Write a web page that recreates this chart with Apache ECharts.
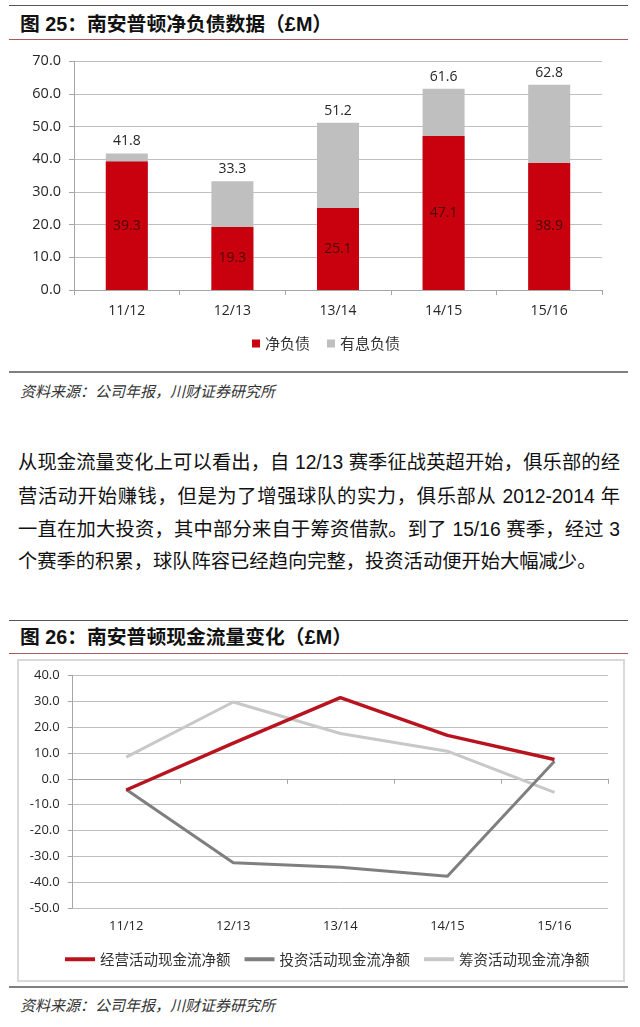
<!DOCTYPE html>
<html>
<head>
<meta charset="utf-8">
<script src="https://cdn.jsdelivr.net/npm/echarts@6/dist/echarts.min.js"></script>
<style>
html,body{margin:0;padding:0;background:#fff;}
body{width:640px;height:1027px;position:relative;overflow:hidden;font-family:"Liberation Sans","Noto Sans CJK SC",sans-serif;}
.hr{position:absolute;left:9px;width:619px;}
.title{position:absolute;left:20px;font-size:19.8px;font-weight:bold;color:#111;line-height:24px;white-space:nowrap;font-family:"Liberation Sans","Noto Sans CJK SC",sans-serif;}
.src{position:absolute;left:20px;font-size:15px;font-style:italic;color:#333;line-height:20px;white-space:nowrap;font-family:"Noto Sans CJK SC",sans-serif;}
.para{position:absolute;left:18px;width:602px;font-size:19.3px;color:#111;line-height:26px;font-family:"Liberation Sans","Noto Sans CJK SC",sans-serif;}
.just{text-align:justify;text-align-last:justify;}
.box{position:absolute;left:17px;top:659px;width:608px;height:323px;border:2px solid #d9d9d9;box-sizing:border-box;}
.chart{position:absolute;left:0;width:640px;}
</style>
</head>
<body>
<div class="hr" style="top:5px;border-top:1.5px solid #555;"></div>
<div class="title" style="top:12px;">图 25：南安普顿净负债数据（£M）</div>
<div class="hr" style="top:39px;border-top:1.5px solid #a65a5a;"></div>
<div id="c1" class="chart" style="top:45px;height:320px;"></div>
<div class="hr" style="top:371px;border-top:2px solid #808080;"></div>
<div class="src" style="top:381px;">资料来源：公司年报，川财证券研究所</div>

<div class="para just" style="top:450px;">从现金流量变化上可以看出，自 12/13 赛季征战英超开始，俱乐部的经</div>
<div class="para just" style="top:484px;">营活动开始赚钱，但是为了增强球队的实力，俱乐部从 2012-2014 年</div>
<div class="para just" style="top:517px;">一直在加大投资，其中部分来自于筹资借款。到了 15/16 赛季，经过 3</div>
<div class="para" style="top:549px;">个赛季的积累，球队阵容已经趋向完整，投资活动便开始大幅减少。</div>

<div class="hr" style="top:620px;border-top:1.5px solid #555;"></div>
<div class="title" style="top:625px;">图 26：南安普顿现金流量变化（£M）</div>
<div class="hr" style="top:653px;border-top:1.5px solid #a65a5a;"></div>
<div class="box"></div>
<div id="c2" class="chart" style="top:659px;height:323px;"></div>
<div class="hr" style="top:986px;border-top:2px solid #808080;"></div>
<div class="src" style="top:995px;">资料来源：公司年报，川财证券研究所</div>

<script>
// ---- data ----
const seasons = ['11/12', '12/13', '13/14', '14/15', '15/16'];
const netDebt = [39.3, 19.3, 25.1, 47.1, 38.9];          // 净负债
const interestDebt = [41.8, 33.3, 51.2, 61.6, 62.8];     // 有息负债
const debtSeriesNames = ['净负债', '有息负债'];

const operatingCF = [-4.3, 13.8, 31.4, 16.8, 7.5];       // 经营活动现金流净额
const investingCF = [-4.1, -32.4, -34.1, -37.6, 6.8];    // 投资活动现金流净额
const financingCF = [8.4, 29.7, 17.5, 10.7, -5.2];       // 筹资活动现金流净额
const cfSeriesNames = ['经营活动现金流净额', '投资活动现金流净额', '筹资活动现金流净额'];

const axisGray = '#a6a6a6';
const gridGray = '#bfbfbf';
const labelColor = '#262626';
const numFont = 'Open Sans';

const c1 = echarts.init(document.getElementById('c1'));
c1.setOption({
  animation: false,
  grid: { left: 74, top: 16.3, width: 528, height: 228.7 },
  legend: {
    data: debtSeriesNames, left: 247, top: 286, icon: 'rect',
    itemWidth: 8, itemHeight: 8, itemGap: 17,
    textStyle: { fontSize: 15, color: '#333', fontFamily: 'Noto Sans CJK SC' }
  },
  xAxis: {
    type: 'category', data: seasons,
    axisLine: { lineStyle: { color: axisGray, width: 1 } },
    axisTick: { show: true, length: 5, lineStyle: { color: axisGray } },
    axisLabel: { margin: 14, fontSize: 14, color: labelColor, fontFamily: numFont }
  },
  yAxis: {
    type: 'value', min: 0, max: 70, interval: 10,
    axisLine: { show: true, lineStyle: { color: axisGray } },
    axisTick: { show: true, length: 5, lineStyle: { color: axisGray } },
    axisLabel: { margin: 13, fontSize: 14.5, color: labelColor, fontFamily: numFont, formatter: v => v.toFixed(1) },
    splitLine: { lineStyle: { color: gridGray } }
  },
  series: [
    {
      name: '有息负债', type: 'bar', data: interestDebt, barWidth: 42, barGap: '-100%',
      itemStyle: { color: '#bfbfbf' },
      label: { show: true, position: 'top', distance: 5, fontSize: 14, color: labelColor, fontFamily: numFont, formatter: p => p.value.toFixed(1) }
    },
    {
      name: '净负债', type: 'bar', data: netDebt, barWidth: 42, barGap: '-100%',
      itemStyle: { color: '#c9000e' },
      label: { show: true, position: 'inside', fontSize: 14, color: '#4a0606', fontFamily: numFont, formatter: p => p.value.toFixed(1) }
    }
  ]
});

const c2 = echarts.init(document.getElementById('c2'));
const lineSeries = (name, data, color, width, z) => ({
  name, type: 'line', data, xAxisIndex: 0, showSymbol: false, symbol: 'none', z,
  lineStyle: { color, width, cap: 'butt' }, itemStyle: { color }
});
c2.setOption({
  animation: false,
  grid: { left: 72.7, top: 16.3, width: 535.3, height: 233 },
  legend: {
    data: cfSeriesNames, left: 60, top: 288, icon: 'rect',
    itemWidth: 30, itemHeight: 4, itemGap: 14,
    textStyle: { fontSize: 14.5, color: '#333', fontFamily: 'Noto Sans CJK SC' }
  },
  xAxis: [
    {
      type: 'category', data: seasons, position: 'bottom',
      axisLine: { show: false, onZero: false }, axisTick: { show: false },
      axisLabel: { margin: 11, fontSize: 13, color: labelColor, fontFamily: numFont }
    },
    {
      type: 'category', data: seasons, position: 'top',
      axisLine: { show: true, onZero: true, lineStyle: { color: axisGray } },
      axisTick: { show: true, inside: true, length: 5, lineStyle: { color: axisGray } },
      axisLabel: { show: false }, splitLine: { show: false }
    }
  ],
  yAxis: {
    type: 'value', min: -50, max: 40, interval: 10,
    axisLine: { show: true, lineStyle: { color: axisGray } },
    axisTick: { show: true, length: 5, lineStyle: { color: axisGray } },
    axisLabel: { margin: 13, fontSize: 13, color: labelColor, fontFamily: numFont, formatter: v => v.toFixed(1) },
    splitLine: { lineStyle: { color: gridGray } }
  },
  series: [
    lineSeries('经营活动现金流净额', operatingCF, '#b8141f', 3.5, 5),
    lineSeries('投资活动现金流净额', investingCF, '#7f7f7f', 3, 4),
    lineSeries('筹资活动现金流净额', financingCF, '#c8c8c8', 3, 3)
  ]
});
</script>
</body>
</html>
